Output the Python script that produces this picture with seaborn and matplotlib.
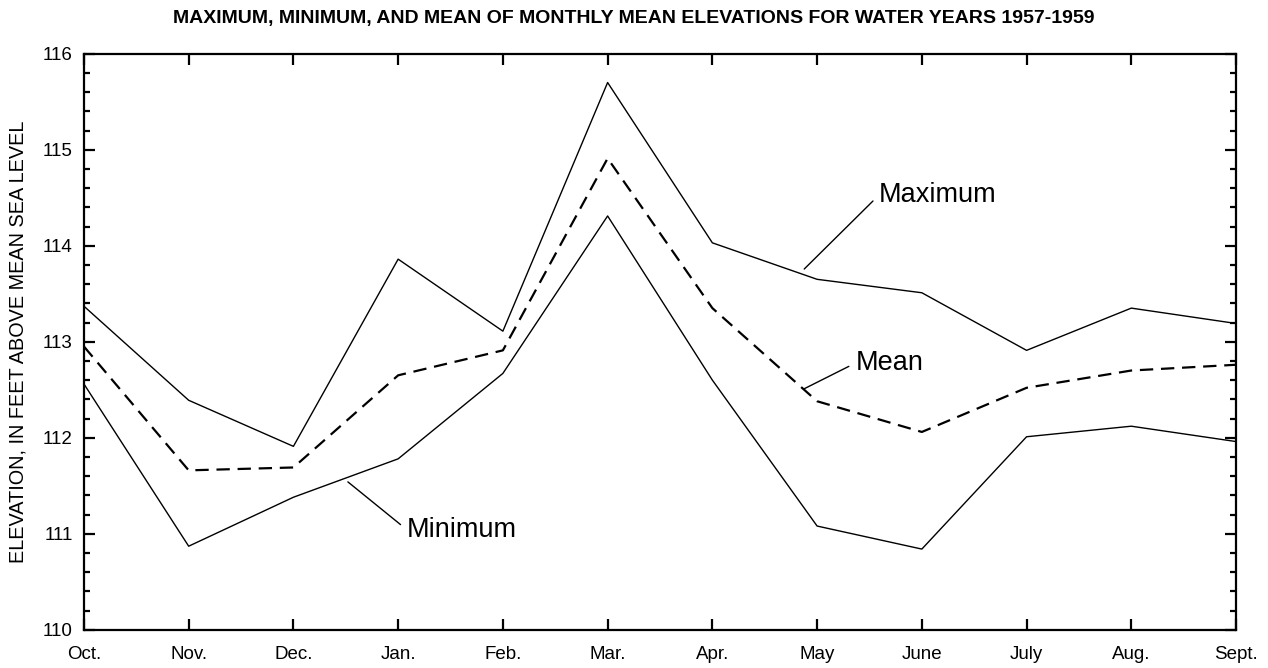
import matplotlib
matplotlib.use("Agg")
import matplotlib.pyplot as plt
from matplotlib.ticker import MultipleLocator
import numpy as np
import pandas as pd
import seaborn as sns

# Monthly mean elevations (feet above mean sea level), water years 1957-1959
months = ["Oct.", "Nov.", "Dec.", "Jan.", "Feb.", "Mar.",
          "Apr.", "May", "June", "July", "Aug.", "Sept."]
maximum = [113.37, 112.39, 111.91, 113.86, 113.11, 115.70,
           114.03, 113.65, 113.51, 112.91, 113.35, 113.19]
mean = [112.95, 111.66, 111.69, 112.65, 112.91, 114.91,
        113.35, 112.38, 112.06, 112.52, 112.70, 112.76]
minimum = [112.56, 110.87, 111.38, 111.78, 112.67, 114.31,
           112.60, 111.08, 110.84, 112.01, 112.12, 111.96]

sns.set_style("white")
plt.rcParams["font.family"] = ["Liberation Sans", "DejaVu Sans"]
plt.rcParams["text.color"] = "black"
plt.rcParams["axes.labelcolor"] = "black"
plt.rcParams["xtick.color"] = "black"
plt.rcParams["ytick.color"] = "black"

df = pd.DataFrame({
    "pos": np.arange(len(months)),
    "Maximum": maximum,
    "Mean": mean,
    "Minimum": minimum,
})

fig = plt.figure(figsize=(12.68, 6.68), dpi=100)
ax = fig.add_axes([0.0662, 0.0573, 0.9086, 0.8623])

sns.lineplot(data=df, x="pos", y="Maximum", ax=ax, color="black", linewidth=1.0)
sns.lineplot(data=df, x="pos", y="Minimum", ax=ax, color="black", linewidth=1.0)
sns.lineplot(data=df, x="pos", y="Mean", ax=ax, color="black", linewidth=1.6,
             linestyle=(0, (6, 3.5)))

ax.set_xlim(0, len(months) - 1)
ax.set_ylim(110, 116)
ax.set_xticks(df["pos"])
ax.set_xticklabels(months)
ax.yaxis.set_major_locator(MultipleLocator(1))
ax.yaxis.set_minor_locator(MultipleLocator(0.2))

for side in ["left", "right", "top", "bottom"]:
    ax.spines[side].set_visible(True)
    ax.spines[side].set_color("black")
    ax.spines[side].set_linewidth(1.6)

ax.tick_params(axis="x", which="major", direction="in", length=8, width=1.6,
               top=True, bottom=True, labelsize=13.5, pad=11.5)
ax.tick_params(axis="y", which="major", direction="in", length=8, width=1.6,
               left=True, right=True, labelsize=13.5, pad=8)
ax.tick_params(axis="y", which="minor", direction="in", length=4, width=1.6,
               left=True, right=True)

ax.set_xlabel("")
ax.set_ylabel("ELEVATION, IN FEET ABOVE MEAN SEA LEVEL", fontsize=14.3,
              labelpad=11)
fig.suptitle("MAXIMUM, MINIMUM, AND MEAN OF MONTHLY MEAN ELEVATIONS FOR WATER YEARS 1957-1959",
             x=0.5, y=0.972, fontsize=14, fontweight="bold", va="center")

# Curve labels with leader lines
arrow = dict(arrowstyle="-", color="black", linewidth=1.0,
             shrinkA=3, shrinkB=0, relpos=(0, 0.5))
ax.annotate("Maximum", xy=(6.877, 113.757), xytext=(7.593, 114.53),
            fontsize=19.5, va="center", ha="left", arrowprops=arrow)
ax.annotate("Mean", xy=(6.877, 112.51), xytext=(7.37, 112.78),
            fontsize=19.5, va="center", ha="left", arrowprops=arrow)
ax.annotate("Minimum", xy=(2.52, 111.54), xytext=(3.085, 111.04),
            fontsize=19.5, va="center", ha="left", arrowprops=arrow)

fig.savefig("out.png", dpi=100)
